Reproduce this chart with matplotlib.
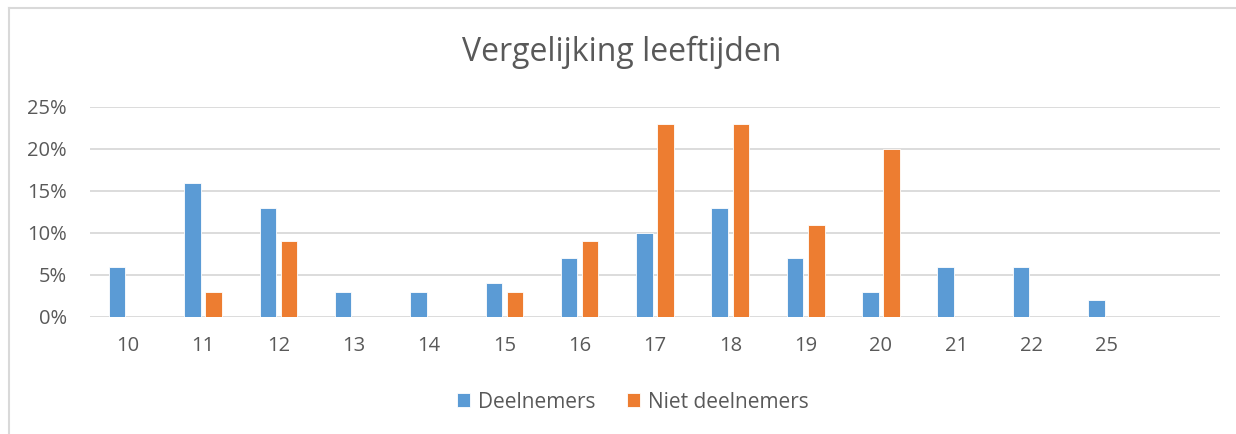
import matplotlib
matplotlib.use('Agg')
import matplotlib.pyplot as plt
import numpy as np
from matplotlib.lines import Line2D

# ages (last slot is an empty category, as in the original chart)
ages = ['10', '11', '12', '13', '14', '15', '16', '17', '18', '19', '20', '21', '22', '25', '']
deelnemers = [6, 16, 13, 3, 3, 4, 7, 10, 13, 7, 3, 6, 6, 2, np.nan]
niet_deelnemers = [0, 3, 9, 0, 0, 3, 9, 23, 23, 11, 20, 0, 0, 0, np.nan]

BLUE = '#5B9BD5'
ORANGE = '#ED7D31'
TEXT = '#595959'
GRID = '#D9D9D9'

plt.rcParams['font.family'] = ['Open Sans', 'DejaVu Sans']

W, H = 1236, 434
fig = plt.figure(figsize=(W / 100, H / 100), dpi=100)
ax = fig.add_axes([90 / W, 1 - 317 / H, (1220 - 90) / W, (317 - 107) / H])

x = np.arange(len(ages))
bw = 0.22
off = 0.14
ax.bar(x - off, np.array(deelnemers) / 100, bw, color=BLUE, edgecolor='white',
       linewidth=0.6, label='Deelnemers', zorder=3)
ax.bar(x + off, np.array(niet_deelnemers) / 100, bw, color=ORANGE, edgecolor='white',
       linewidth=0.6, label='Niet deelnemers', zorder=3)

ax.set_xlim(-0.5, len(ages) - 0.5)
ax.set_ylim(0, 0.25)
yt = np.arange(0, 0.26, 0.05)
ax.set_yticks(yt)
ax.set_yticklabels([f'{int(round(v * 100))}%' for v in yt])
ax.set_xticks(x)
ax.set_xticklabels(ages)
ax.tick_params(axis='both', length=0, labelsize=14.5, labelcolor=TEXT)
ax.tick_params(axis='x', pad=14)
ax.tick_params(axis='y', pad=16.5)
ax.yaxis.grid(True, color=GRID, linewidth=1.3, zorder=0)
for s in ax.spines.values():
    s.set_visible(False)

fig.text(622 / W, 1 - 52 / H, 'Vergelijking leeftijden', ha='center', va='center',
         fontsize=23, color=TEXT)

fig.legend(loc='center', bbox_to_anchor=(633 / W, 1 - 402 / H), ncol=2, frameon=False,
           fontsize=15, labelcolor=TEXT, handlelength=0.62, handleheight=0.62,
           handletextpad=0.38, columnspacing=1.5, borderpad=0)

# chart frame (cropped at right and bottom)
fig.add_artist(Line2D([9 / W, 9 / W], [0, 1 - 8 / H], transform=fig.transFigure,
                      color=GRID, linewidth=1.5))
fig.add_artist(Line2D([9 / W, 1], [1 - 8 / H, 1 - 8 / H], transform=fig.transFigure,
                      color=GRID, linewidth=1.5))

fig.savefig('out.png', dpi=100)
